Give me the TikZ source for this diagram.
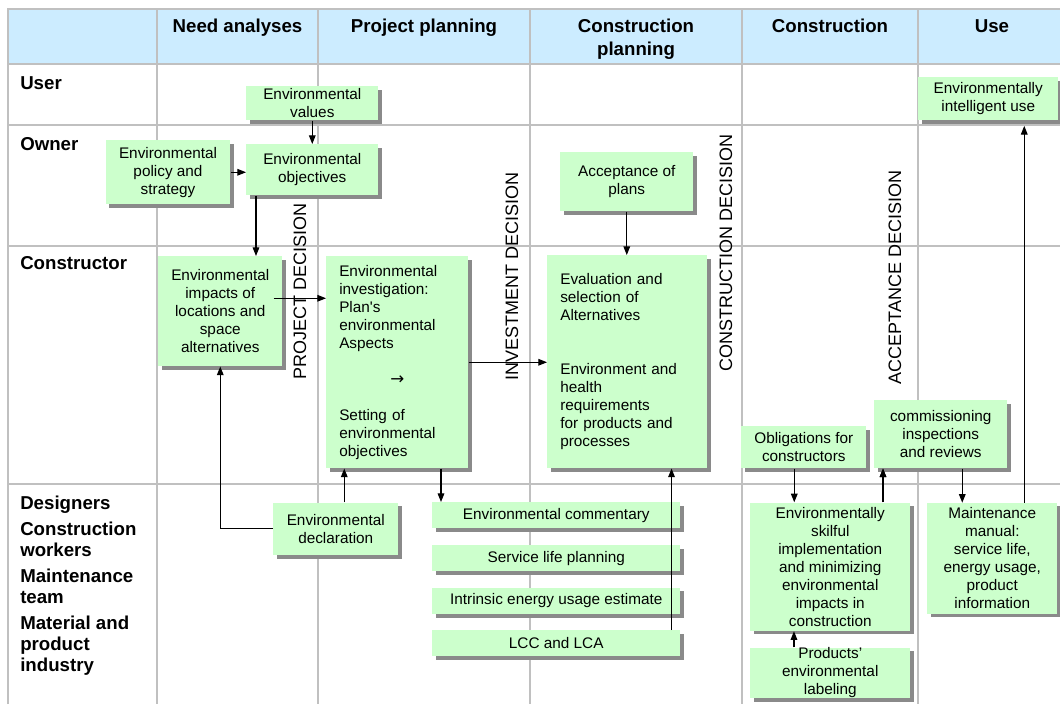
\documentclass[tikz,border=0pt]{standalone}
\usepackage{fontspec}
\setmainfont{Liberation Sans}
\newfontfamily\plainfont{Liberation Sans}
\newfontfamily\symbolfont{DejaVu Sans}
\usetikzlibrary{calc,arrows.meta,shadows}

% one drawing unit = one pixel of the finished image
\newlength\pxu
\setlength\pxu{0.75pt}

\definecolor{boxgreen}{HTML}{CCFFCC}
\definecolor{headblue}{HTML}{CCECFF}
\definecolor{gridgray}{HTML}{C0C0C0}
\definecolor{shadegray}{HTML}{8A8A8A}

\newcommand\bodyfont{\fontsize{11.5pt}{13.5pt}\selectfont}
\newcommand\headfont{\fontsize{14pt}{17pt}\bfseries\selectfont}
\newcommand\lanefont{\fontsize{14pt}{15.75pt}\bfseries\selectfont}
\newcommand\gatefont{\fontsize{13.5pt}{16pt}\selectfont}

\tikzset{
  gbox/.style={fill=boxgreen, draw=none, inner sep=0pt, anchor=north west,
    align=center, font=\bodyfont,
    general shadow={fill=shadegray, shadow xshift=2.5pt, shadow yshift=-2.5pt}},
  leftbox/.style={gbox, align=left, inner xsep=13*\pxu},
  gridline/.style={draw=gridgray, line width=1.3pt},
  header/.style={anchor=north, align=center, inner sep=0pt, font=\headfont},
  lane/.style={anchor=north west, align=left, inner sep=0pt, font=\lanefont},
  gate/.style={rotate=90, inner sep=0pt, font=\gatefont},
  arr/.style={line width=0.8pt, -{Triangle[length=6.5pt,width=5pt]}},
}

\begin{document}
\begin{tikzpicture}[x=0.75pt, y=-0.75pt]
\useasboundingbox (0,0) rectangle (1060,704);
\clip (0,0) rectangle (1060,704);
\fill[white] (0,0) rectangle (1060,704);

% ---------- swimlane table ----------
\fill[headblue] (8,9) rectangle (1080,64);
\draw[gridline] (8,704) -- (8,9) -- (1080,9);
\foreach \yy in {64,125,246,484} \draw[gridline] (8,\yy) -- (1080,\yy);
\foreach \xx in {157,318,530,742,918} \draw[gridline] (\xx,9) -- (\xx,704);

% phase headers
\node[header] (hneed)  at (237.5,19) {Need analyses};
\node[header] (hproj)  at (424,19)   {Project planning};
\node[header] (hcplan) at (636,19)   {Construction\\planning};
\node[header] (hcons)  at (830,19)   {Construction};
\node[header] (huse)   at (992,19)   {Use};

% actor lanes
\node[lane] (luser)  at (20,76)  {User};
\node[lane] (lowner) at (20,137) {Owner};
\node[lane] (lcons)  at (20,256.5) {Constructor};
\node[lane] (lteam)  at (20,496) {Designers\\[3.75pt]Construction\\workers\\[3.75pt]Maintenance\\team\\[3.75pt]Material and\\product\\industry};

% decision gates
\node[gate] (gproj) at (300,291.5) {PROJECT DECISION};
\node[gate] (ginv)  at (512,276.5) {INVESTMENT DECISION};
\node[gate] (gcons) at (726,252.5) {CONSTRUCTION DECISION};
\node[gate] (gacc)  at (895,277.5) {ACCEPTANCE DECISION};

% ---------- activity boxes ----------
\node[gbox, minimum width=132*\pxu, minimum height=34*\pxu] (values) at (246,86)
  {Environmental\\values};
\node[gbox, minimum width=124.5*\pxu, minimum height=64*\pxu] (policy) at (105.5,140)
  {Environmental\\policy and\\strategy};
\node[gbox, minimum width=132*\pxu, minimum height=51*\pxu] (objectives) at (246,144)
  {Environmental\\objectives};
\node[gbox, minimum width=124*\pxu, minimum height=110*\pxu] (impacts) at (158,256)
  {Environmental\\impacts of\\locations and\\space\\alternatives};
\node[leftbox, text width=116*\pxu, minimum width=142*\pxu, minimum height=212*\pxu] (investigation) at (326,256)
  {Environmental\\investigation:\\{\plainfont Plan's}\\environmental\\Aspects\\[13.5pt]\makebox[87pt]{\symbolfont\fontsize{12.5pt}{13.5pt}\selectfont →}\\[13.5pt]Setting of\\environmental\\objectives};
\node[leftbox, text width=134*\pxu, minimum width=160*\pxu, minimum height=213*\pxu] (evaluation) at (547,255)
  {Evaluation and\\selection of\\Alternatives\\[27pt]Environment and\\health\\requirements\\for products and\\processes};
\node[gbox, minimum width=133*\pxu, minimum height=59*\pxu] (acceptance) at (560,152)
  {Acceptance of\\plans};
\node[gbox, minimum width=125*\pxu, minimum height=42*\pxu] (obligations) at (741,426)
  {Obligations for\\constructors};
\node[gbox, minimum width=133*\pxu, minimum height=68*\pxu] (commissioning) at (874,400)
  {commissioning\\inspections\\and reviews};
\node[gbox, minimum width=140*\pxu, minimum height=43*\pxu] (intelligent) at (918,77)
  {Environmentally\\intelligent use};

\node[gbox, minimum width=248*\pxu, minimum height=26*\pxu] (commentary) at (432,502)
  {Environmental commentary};
\node[gbox, minimum width=248*\pxu, minimum height=26*\pxu] (service) at (432,545)
  {Service life planning};
\node[gbox, minimum width=248*\pxu, minimum height=26.5*\pxu] (intrinsic) at (432,587.5)
  {Intrinsic energy usage estimate};
\node[gbox, minimum width=248*\pxu, minimum height=26*\pxu] (lcc) at (432,630)
  {LCC and LCA};
\node[gbox, minimum width=125*\pxu, minimum height=52.7*\pxu] (declaration) at (273,502.3)
  {Environmental\\declaration};
\node[gbox, minimum width=160*\pxu, minimum height=128.4*\pxu] (skilful) at (750,502.3)
  {Environmentally\\skilful\\implementation\\and minimizing\\environmental\\impacts in\\construction};
\node[gbox, minimum width=160*\pxu, minimum height=50.7*\pxu] (labeling) at (750,647.3)
  {Products’\\environmental\\labeling};
\node[gbox, minimum width=130*\pxu, minimum height=110.6*\pxu] (maintenance) at (927,502.7)
  {Maintenance\\manual:\\service life,\\energy usage,\\product\\information};

% ---------- connectors ----------
\draw[arr] (values.south) -- (values.south |- objectives.north);
\draw[arr] (policy.east) -- (policy.east -| objectives.west);
\draw[arr] ($(objectives.south west)+(10,0)$) coordinate (c1) -- (c1 |- impacts.north);
\draw[arr] ($(impacts.east)+(-9,-13)$) coordinate (c2) -- (c2 -| investigation.west);
\draw[arr] (investigation.east) -- (investigation.east -| evaluation.west);
\draw[arr] (acceptance.south) -- (acceptance.south |- evaluation.north);
\draw[arr] ($(investigation.south west)+(115,0)$) coordinate (c3) -- (c3 |- commentary.north);
\draw[arr] ($(declaration.north)+(8.5,0)$) coordinate (c4) -- (c4 |- investigation.south);
\draw[arr] (declaration.west) -| (impacts.south);
\draw[arr] ($(lcc.north east)+(-9,0)$) coordinate (c5) -- (c5 |- evaluation.south);
\draw[arr] ($(obligations.south)+(-9.5,0)$) coordinate (c6) -- (c6 |- skilful.north);
\draw[arr] ($(commissioning.south west)+(9,0)$) coordinate (c7);
\draw[arr] (c7 |- skilful.north) -- (c7);
\draw[arr] ($(commissioning.south)+(21.5,0)$) coordinate (c8) -- (c8 |- maintenance.north);
\draw[arr] ($(labeling.north)+(-36.3,0)$) coordinate (c9) -- (c9 |- skilful.south);
\draw[arr, shorten >=4pt] ($(maintenance.north)+(32,0)$) coordinate (c10) -- (c10 |- intelligent.south);
\end{tikzpicture}
\end{document}
